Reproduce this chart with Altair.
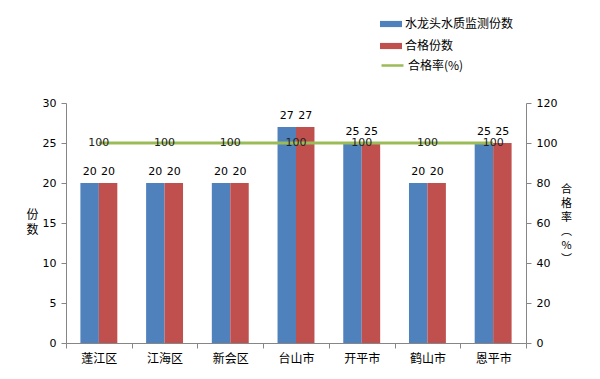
import altair as alt
import pandas as pd

districts = ["蓬江区", "江海区", "新会区", "台山市", "开平市", "鹤山市", "恩平市"]
monitored = [20, 20, 20, 27, 25, 20, 25]
qualified = [20, 20, 20, 27, 25, 20, 25]
rate = [100, 100, 100, 100, 100, 100, 100]
series_names = ["水龙头水质监测份数", "合格份数"]
rate_name = "合格率(%)"
left_ticks = [0, 5, 10, 15, 20, 25, 30]
right_ticks = [0, 20, 40, 60, 80, 100, 120]

bar_df = pd.DataFrame({
    "district": districts * 2,
    "series": [series_names[0]] * len(districts) + [series_names[1]] * len(districts),
    "value": monitored + qualified,
})
line_df = pd.DataFrame({"district": districts, "rate": rate, "name": [rate_name] * len(districts)})

CJK = "Noto Sans CJK SC"
NUM = "DejaVu Sans"
AXIS_GRAY = "#868686"

x_enc = alt.X(
    "district:N", sort=districts,
    scale=alt.Scale(paddingInner=0, paddingOuter=0),
    axis=alt.Axis(title=None, labelAngle=0, tickBand="extent", domainColor=AXIS_GRAY,
                  tickColor=AXIS_GRAY, tickSize=5, labelPadding=5, labelFont=CJK,
                  labelFontSize=12, labelColor="#000", grid=False),
)
xoff = alt.XOffset("series:N", sort=series_names,
                   scale=alt.Scale(paddingInner=0, paddingOuter=0.78))

left_axis = alt.Axis(values=left_ticks, title=["份", "数"], titleAngle=0, titleX=-34, titleY=106,
                     titleAlign="center", titleBaseline="top", titleFont=CJK, titleFontSize=12,
                     titleFontWeight="normal", titleLineHeight=15, titleColor="#000",
                     domainColor=AXIS_GRAY, tickColor=AXIS_GRAY, tickSize=5, labelPadding=5,
                     labelFont=NUM, labelFontSize=11, labelColor="#000", grid=False)
right_axis = alt.Axis(orient="right", values=right_ticks, title=["合", "格", "率", "︵", "%", "︶"],
                      titleAngle=0, titleX=40, titleY=80, titleAlign="center", titleBaseline="top",
                      titleFont=CJK, titleFontSize=11, titleFontWeight="normal", titleLineHeight=14,
                      titleColor="#000", domainColor=AXIS_GRAY, tickColor=AXIS_GRAY, tickSize=5,
                      labelPadding=5, labelFont=NUM, labelFontSize=11, labelColor="#000", grid=False)

y_left = alt.Y("value:Q", scale=alt.Scale(domain=[0, 30]), axis=left_axis)

bars = alt.Chart(bar_df).mark_bar(stroke=None).encode(
    x=x_enc, xOffset=xoff, y=y_left,
    color=alt.Color("series:N", sort=series_names,
                    scale=alt.Scale(domain=series_names, range=["#4F81BD", "#C0504D"]),
                    legend=alt.Legend(title=None, orient="none", legendX=314, legendY=-90,
                                      symbolType="M-1,-0.28H1V0.28H-1Z", symbolSize=484,
                                      symbolStrokeWidth=0, rowPadding=5, labelOffset=3,
                                      labelFont=CJK, labelFontSize=12, labelColor="#000", padding=0)),
)
bar_text = alt.Chart(bar_df).mark_text(baseline="bottom", dy=-6, font=NUM, fontSize=11, color="#000").encode(
    x=x_enc, xOffset=xoff, y=y_left, text="value:Q",
)

y_right = alt.Y("rate:Q", scale=alt.Scale(domain=[0, 120]), axis=right_axis)
line = alt.Chart(line_df).mark_line(strokeWidth=3).encode(
    x=x_enc, y=y_right,
    stroke=alt.Stroke("name:N", scale=alt.Scale(domain=[rate_name], range=["#9BBB59"]),
                      legend=alt.Legend(title=None, orient="none", legendX=314, legendY=-50,
                                        symbolType="stroke", symbolSize=484, symbolStrokeWidth=2.5,
                                        labelOffset=3, labelFont=CJK, labelFontSize=12,
                                        labelColor="#000", padding=0)),
)
line_text = alt.Chart(line_df).mark_text(baseline="middle", font=NUM, fontSize=11, color="#222").encode(
    x=x_enc, y=y_right, text="rate:Q",
)

chart = alt.layer(
    alt.layer(bars, bar_text),
    alt.layer(line, line_text),
).resolve_scale(y="independent", color="independent").properties(
    width=460, height=240,
    autosize=alt.AutoSizeParams(type="none"),
    padding={"left": 58, "top": 95, "right": 66, "bottom": 28},
).configure_view(stroke=None)

chart.save("out.html", embed_options={"renderer": "svg", "actions": False})
